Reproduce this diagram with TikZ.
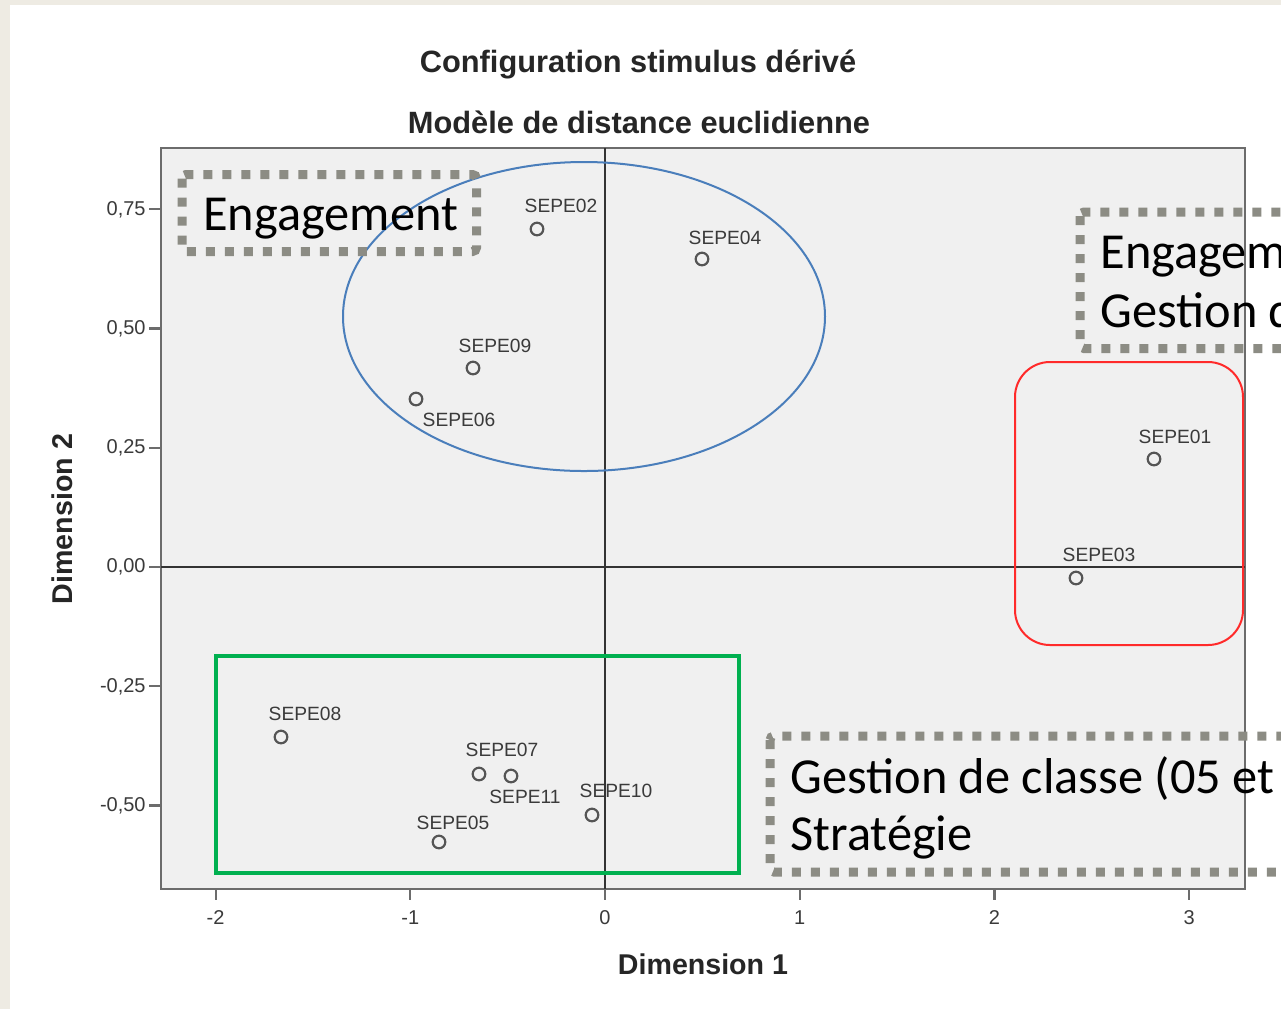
\documentclass[tikz,border=0pt]{standalone}
\usepackage{fontspec}
\setmainfont{Liberation Sans}
\newfontfamily\notefont{Carlito}

\definecolor{pagebeige}{HTML}{EEEBE3}
\definecolor{plotbg}{HTML}{F0F0F0}
\definecolor{framegray}{HTML}{6C6C6C}
\definecolor{ptgray}{HTML}{555555}
\definecolor{lblgray}{HTML}{3A3A3A}
\definecolor{dotgray}{HTML}{8C8C84}
\definecolor{grpblue}{HTML}{4A7EBB}
\definecolor{grpred}{HTML}{FF2A2A}
\definecolor{grpgreen}{HTML}{00B050}

\tikzset{
  pt/.style={circle, draw=ptgray, line width=1.1pt, minimum size=6.3pt, inner sep=0pt},
  ptlabel/.style={font=\fontsize{9.6}{11}\selectfont, text=lblgray, inner sep=0pt},
  ticklabel/.style={font=\fontsize{10}{12}\selectfont, text=lblgray, inner sep=0pt},
  axtitle/.style={font=\bfseries\fontsize{14.3}{17}\selectfont, text=black!85, inner sep=0pt},
  plottitle/.style={font=\bfseries\fontsize{15.4}{18}\selectfont, text=black!85, inner sep=0pt},
  dotbox/.style={draw=dotgray, line width=4.5pt, dash pattern=on 4.5pt off 5pt, rounded corners=2pt},
  note/.style={font=\notefont\fontsize{25.2}{29}\selectfont, inner sep=0pt, anchor=base west},
}

\begin{document}
\begin{tikzpicture}[x=0.5pt, y=-0.5pt]
\useasboundingbox (0,0) rectangle (1281,1009);
\clip (0,0) rectangle (1281,1009);
\fill[pagebeige] (0,0) rectangle (1281,1009);
\fill[white] (10,5) rectangle (1281,1009);

% titles
\node[plottitle] (title1) at (638,64) {Configuration stimulus dérivé};
\node[plottitle] (title2) at (639,122) {Modèle de distance euclidienne};

% plot area and axes
\draw[framegray, line width=1.1pt, fill=plotbg] (161,148) rectangle (1245,889);
\draw[black!80, line width=1pt] (605,148) -- (605,889);
\draw[black!80, line width=1.1pt] (161,567) -- (1245,567);

% ticks
\foreach \x/\t in {215.6/-2, 410.3/-1, 605/0, 799.7/1, 994.4/2, 1189.1/3} {
  \draw[framegray, line width=1.1pt] (\x,889) -- (\x,900);
  \node[ticklabel] at (\x,918) {\t};
}
\foreach \y/\t in {209.3/{0,75}, 328.5/{0,50}, 447.8/{0,25}, 567/{0,00}, 686.3/{-0,25}, 805.5/{-0,50}} {
  \draw[framegray, line width=1.1pt] (149,\y) -- (161,\y);
  \node[ticklabel, anchor=east] at (146,\y) {\t};
}
\node[axtitle] (xtitle) at (703,964) {Dimension 1};
\node[axtitle, rotate=90] (ytitle) at (62,519) {Dimension 2};

% groups
\draw[grpblue, line width=1pt] (584,316.5) ellipse [x radius=241, y radius=154.5];
\draw[grpred, line width=1pt, rounded corners=17.5pt] (1015,362) rectangle (1243,645);
\draw[grpgreen, line width=1.6pt] (216,656) rectangle (739,873);

% stimuli
\node[pt] (p01) at (1154,459) {};
\node[pt] (p02) at (537,229) {};
\node[pt] (p03) at (1076,578) {};
\node[pt] (p04) at (702,259) {};
\node[pt] (p05) at (439,842) {};
\node[pt] (p06) at (416,399) {};
\node[pt] (p07) at (479,774) {};
\node[pt] (p08) at (281,737) {};
\node[pt] (p09) at (473,368) {};
\node[pt] (p10) at (592,815) {};
\node[pt] (p11) at (511,776) {};

\node[ptlabel] (l01) at (1175,437) {SEPE01};
\node[ptlabel] (l02) at (561,206) {SEPE02};
\node[ptlabel] (l03) at (1099,555) {SEPE03};
\node[ptlabel] (l04) at (725,238) {SEPE04};
\node[ptlabel] (l05) at (453,823) {SEPE05};
\node[ptlabel] (l06) at (459,420) {SEPE06};
\node[ptlabel] (l07) at (502,750) {SEPE07};
\node[ptlabel] (l08) at (305,714) {SEPE08};
\node[ptlabel] (l09) at (495,346) {SEPE09};
\node[ptlabel] (l10) at (616,791) {SEPE10};
\node[ptlabel] (l11) at (525,797) {SEPE11};

% annotation boxes
\draw[dotbox] (182,174.5) rectangle (476.5,251.5);
\node[note] (engage) at (203,230) {Engagement};

\draw[dotbox] (1080,212) rectangle (1400,348.5);
\node[note] (engage2) at (1100,268) {Engagem};
\node[note] (gestion2) at (1100,327) {Gestion d};

\draw[dotbox] (770,736) rectangle (1400,872);
\node[note] (gestion3) at (790,793) {Gestion de classe (05 et};
\node[note] (strat) at (790,850) {Stratégie};
\end{tikzpicture}
\end{document}
